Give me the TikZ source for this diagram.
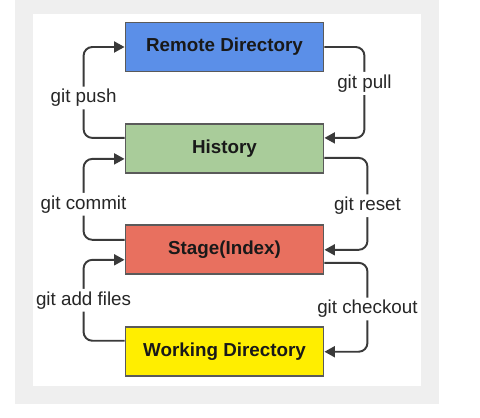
\documentclass[tikz,border=0pt]{standalone}
\usepackage{fontspec}
\setmainfont{Liberation Sans}
\usepackage{xcolor}
\usepackage{tikz}
\usetikzlibrary{arrows.meta,positioning,calc}
\definecolor{gblue}{HTML}{5B8FE8}
\definecolor{ggreen}{HTML}{A9CC9A}
\definecolor{gred}{HTML}{E8705F}
\definecolor{gyellow}{HTML}{FFEE00}
\definecolor{gframe}{HTML}{EFEFEF}
\definecolor{gline}{HTML}{3A3A3A}
\definecolor{gedge}{HTML}{5A5A5A}
\tikzset{
  % coloured stage box with a grey border
  box/.style = {rectangle, draw=gedge, fill=#1, line width=1.1pt,
                minimum width=3.96cm, minimum height=0.98cm, inner sep=0pt,
                font=\fontsize{10.7}{13}\selectfont\bfseries, text=black!90},
  box/.default = white,
  arr/.style = {-{Triangle[length=2.1mm,width=2.2mm]}, line width=1.1pt, gline,
                rounded corners=5pt},
  lbl/.style = {fill=white, inner sep=1.5pt, font=\fontsize{10.7}{13}\selectfont,
                text=black!85},
}

\begin{document}
\begin{tikzpicture}[x=0.02cm,y=-0.02cm]
\useasboundingbox (0,0) rectangle (480,418);
\fill[white] (0,0) rectangle (480,418);
% screenshot frame
\fill[gframe] (15,0) rectangle (439,404);
\fill[white] (33,14) rectangle (421,386);
% stages
\node[box=gblue] (rem) at (224.5,47) {Remote Directory};
\node[box=ggreen, below=1.02cm of rem] (hist) {History};
\node[box=gred, below=1.0cm of hist] (stage) {Stage(Index)};
\node[box=gyellow, below=1.02cm of stage] (work) {Working Directory};
% left side: moving up
\draw[arr] ([yshift=2.2mm]hist.west) -- ++(-0.82cm,0) |- node[lbl,pos=0.22] {git push} (rem.west);
\draw[arr] ([yshift=2mm]stage.west) -- ++(-0.82cm,0) |- node[lbl,pos=0.22] {git commit} ([yshift=-2mm]hist.west);
\draw[arr] ([yshift=2.2mm]work.west) -- ++(-0.82cm,0) |- node[lbl,pos=0.25] {git add files} ([yshift=-2mm]stage.west);
% right side: moving down
\draw[arr] (rem.east) -- ++(0.8cm,0) |- node[lbl,pos=0.2] {git pull} ([yshift=2.2mm]hist.east);
\draw[arr] ([yshift=-1.8mm]hist.east) -- ++(0.86cm,0) |- node[lbl,pos=0.26] {git reset} (stage.east);
\draw[arr] ([yshift=-2.6mm]stage.east) -- ++(0.86cm,0) |- node[lbl,pos=0.26] {git checkout} (work.east);
\end{tikzpicture}
\end{document}
